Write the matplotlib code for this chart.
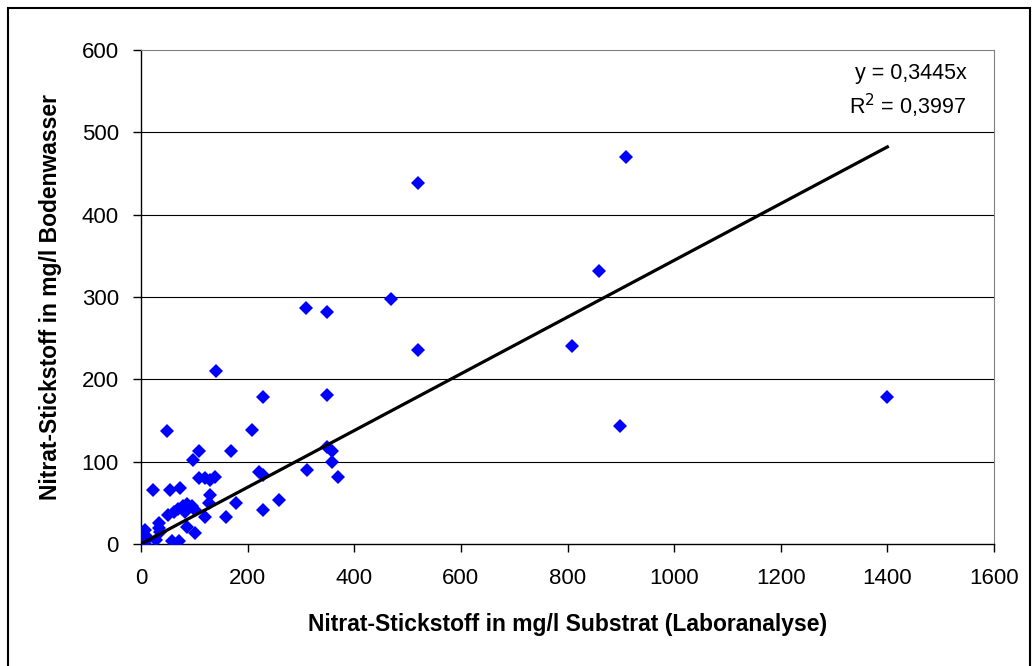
import numpy as np
import matplotlib
matplotlib.use("Agg")
import matplotlib.pyplot as plt
from matplotlib.patches import Rectangle

plt.rcParams["font.family"] = ["Liberation Sans", "DejaVu Sans"]

# -----------------------------
# Data
# -----------------------------
substrat = [910, 520, 860, 468, 310, 348, 808, 520, 140, 228, 348, 1400, 898,
            209, 48, 97, 108, 168, 348, 359, 359, 370, 311, 221, 228,
            108, 120, 129, 139, 129, 128, 22, 54, 74, 259, 178, 159, 228,
            120, 101, 86, 58, 71, 79, 86, 95, 101, 70, 61, 51, 82,
            33, 33, 36, 29, 8, 4, 14, 1, 8]
bodenwasser = [470, 439, 331, 297, 287, 282, 241, 236, 210, 179, 181, 178, 143,
               139, 137, 102, 113, 113, 118, 113, 100, 81, 90, 88, 84,
               80, 80, 78, 81, 60, 50, 66, 65, 68, 53, 50, 33, 41,
               33, 13, 21, 4, 4, 46, 48, 46, 41, 43, 39, 35, 39,
               25, 19, 15, 5, 17, 9, 7, 2, 0]

slope = 0.3445
r2 = 0.3997
x_fit = np.array([0, 1400])

# -----------------------------
# Plot
# -----------------------------
fig = plt.figure(figsize=(10.35, 6.66), dpi=100)
ax = fig.add_axes([141 / 1035, 122 / 666, 853 / 1035, 494 / 666])

ax.set_xlim(0, 1600)
ax.set_ylim(0, 600)
ax.set_xticks(np.arange(0, 1601, 200))
ax.set_yticks(np.arange(0, 601, 100))

for yv in range(100, 600, 100):
    ax.axhline(yv, color="black", linewidth=0.8, zorder=1)

ax.plot(substrat, bodenwasser, linestyle="none", marker="D", markersize=7.5,
        color="#0000FF", markeredgewidth=0, zorder=3)
ax.plot(x_fit, slope * x_fit, color="black", linewidth=2.3, zorder=4)

ax.text(1548, 571, f"y = {slope:.4f}x".replace(".", ","), ha="right", va="center", fontsize=15.5)
ax.text(1548, 532, f"R$^2$ = {r2:.4f}".replace(".", ","), ha="right", va="center", fontsize=15.5)

for side in ["top", "right"]:
    ax.spines[side].set_color("#808080")
for side in ["left", "bottom"]:
    ax.spines[side].set_color("black")
    ax.spines[side].set_linewidth(1.0)

ax.tick_params(axis="both", direction="out", length=6, width=1, labelsize=16, colors="black")
ax.tick_params(axis="x", pad=11)
ax.tick_params(axis="y", pad=10)

ax.set_xlabel("Nitrat-Stickstoff in mg/l Substrat (Laboranalyse)", fontsize=16.5,
              fontweight="bold", va="center")
ax.set_ylabel("Nitrat-Stickstoff in mg/l Bodenwasser", fontsize=16.5,
              fontweight="bold", va="center")
ax.xaxis.set_label_coords(0.5, (544 - 625) / 494)
ax.yaxis.set_label_coords((51 - 141) / 853, 0.5)

# outer chart border
fig.patches.append(Rectangle((8 / 1035, -0.05), 1022 / 1035, 1.05 - 8 / 666,
                             transform=fig.transFigure, fill=False,
                             edgecolor="black", linewidth=1.5))

plt.savefig("out.png", dpi=100)
plt.close()
